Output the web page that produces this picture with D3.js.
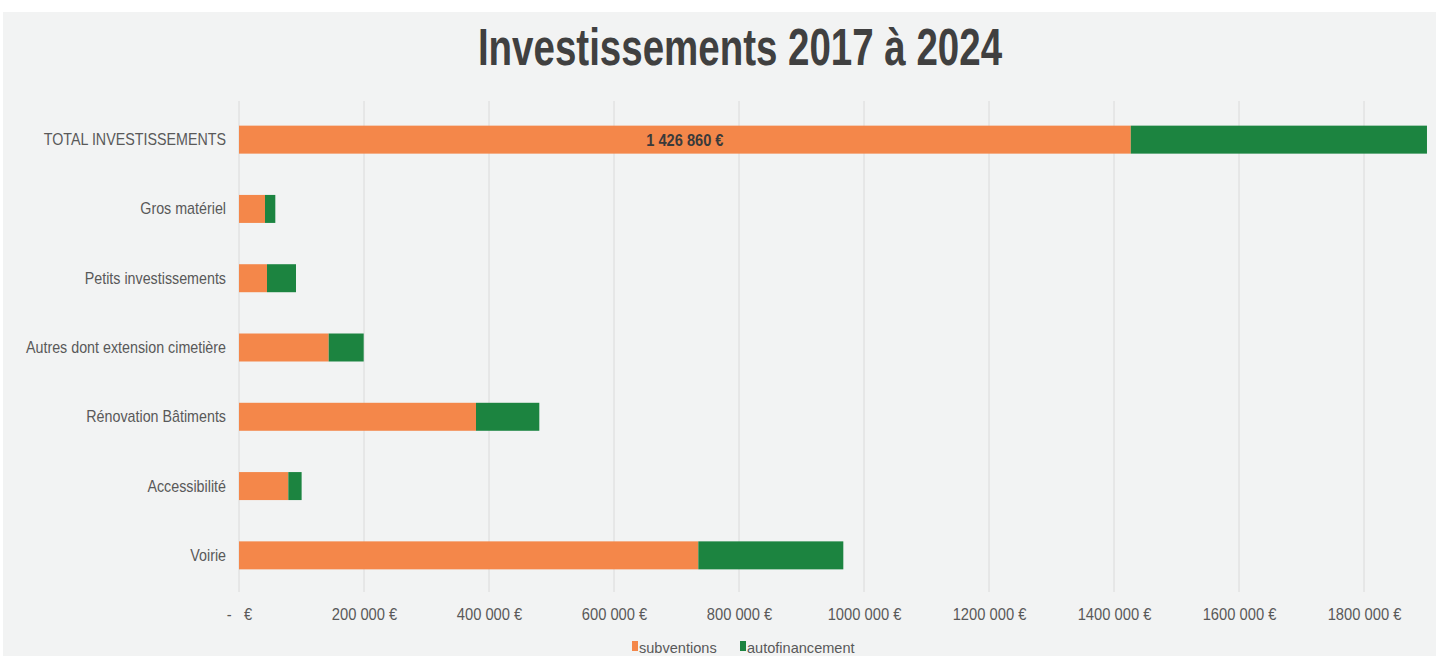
<!DOCTYPE html>
<html>
<head>
<meta charset="utf-8">
<script src="https://cdn.jsdelivr.net/npm/d3@7"></script>
<style>
  body { margin: 0; background: #fff; }
  svg text { font-family: "Liberation Sans", Arial, sans-serif; }
</style>
</head>
<body>
<svg id="chart" width="1436" height="656"></svg>
<script>
// categories, top to bottom
const categories = [
    'TOTAL INVESTISSEMENTS',
    'Gros matériel',
    'Petits investissements',
    'Autres dont extension cimetière',
    'Rénovation Bâtiments',
    'Accessibilité',
    'Voirie'
];
const subventions = [1426860, 41600, 44800, 143500, 379200, 78900, 734900];
const autofinancement = [473900, 16500, 46400, 56000, 101300, 21300, 232000];
const tickValues = [0, 200000, 400000, 600000, 800000, 1000000, 1200000, 1400000, 1600000, 1800000];
const tickLabels = ['-\u00a0\u00a0\u00a0€', '200 000 €', '400 000 €', '600 000 €', '800 000 €', '1000 000 €', '1200 000 €', '1400 000 €', '1600 000 €', '1800 000 €'];
const seriesNames = ['subventions', 'autofinancement'];
const barLabel = '1 426 860 €';

const colors = { subventions: '#f4874a', autofinancement: '#1c8440' };

// no narrow font installed: squeeze text horizontally
const condense = (sel, k) => {
    sel.each(function () {
        const w = this.getComputedTextLength();
        d3.select(this).attr('textLength', w * k).attr('lengthAdjust', 'spacingAndGlyphs');
    });
};

const svg = d3.select('#chart');
svg.append('rect')
    .attr('x', 3).attr('y', 12)
    .attr('width', 1433).attr('height', 644)
    .attr('fill', '#f2f3f3');

const x = d3.scaleLinear().domain([0, 1900000]).range([239, 1426.5]);
const y = d3.scaleBand().domain(categories).range([105, 590])
    .paddingInner(0.596).paddingOuter(0.298);

// gridlines
svg.append('g').attr('class', 'grid')
    .selectAll('line')
    .data(tickValues)
    .enter().append('line')
    .attr('x1', (d) => x(d)).attr('x2', (d) => x(d))
    .attr('y1', 101).attr('y2', 592)
    .attr('stroke', '#dadada')
    .attr('stroke-width', 1);

// stacked bars
const rows = categories.map((c, i) => ({ name: c, sub: subventions[i], auto: autofinancement[i] }));
const bars = svg.append('g').attr('class', 'bars');
bars.selectAll('rect.sub')
    .data(rows)
    .enter().append('rect')
    .attr('class', 'sub')
    .attr('x', x(0))
    .attr('y', (d) => y(d.name))
    .attr('width', (d) => x(d.sub) - x(0))
    .attr('height', y.bandwidth())
    .attr('fill', colors.subventions);
bars.selectAll('rect.auto')
    .data(rows)
    .enter().append('rect')
    .attr('class', 'auto')
    .attr('x', (d) => x(d.sub))
    .attr('y', (d) => y(d.name))
    .attr('width', (d) => x(d.sub + d.auto) - x(d.sub))
    .attr('height', y.bandwidth())
    .attr('fill', colors.autofinancement);

// value label on the total bar
svg.append('text')
    .attr('x', (x(0) + x(subventions[0])) / 2)
    .attr('y', y(categories[0]) + y.bandwidth() / 2 + 6)
    .attr('text-anchor', 'middle')
    .attr('font-size', 17)
    .attr('font-weight', 'bold')
    .attr('fill', '#3a3a3a')
    .text(barLabel)
    .call(condense, 0.86);

// y axis labels
const yAxis = d3.axisLeft(y).tickSize(0).tickPadding(13);
const gy = svg.append('g').attr('transform', 'translate(239,0)').call(yAxis);
gy.select('.domain').remove();
gy.selectAll('text')
    .attr('font-size', 17)
    .attr('fill', '#595959')
    .style('font-family', '"Liberation Sans", Arial, sans-serif')
    .call(condense, 0.84);

// x axis labels
const xAxis = d3.axisBottom(x)
    .tickValues(tickValues)
    .tickSize(0)
    .tickPadding(0)
    .tickFormat((d, i) => tickLabels[i]);
const gx = svg.append('g').attr('transform', 'translate(0,609)').call(xAxis);
gx.select('.domain').remove();
gx.selectAll('text')
    .attr('font-size', 16)
    .attr('fill', '#595959')
    .style('font-family', '"Liberation Sans", Arial, sans-serif')
    .call(condense, 0.92);

// title
svg.append('text')
    .attr('x', 740)
    .attr('y', 65)
    .attr('text-anchor', 'middle')
    .attr('font-size', 52)
    .attr('font-weight', 'bold')
    .attr('fill', '#404040')
    .text('Investissements 2017 à 2024')
    .call(condense, 0.74);

// legend
const legendX = [632, 740];
const legend = svg.append('g').attr('class', 'legend')
    .selectAll('g')
    .data(seriesNames)
    .enter().append('g')
    .attr('transform', (d, i) => 'translate(' + legendX[i] + ',0)');
legend.append('rect')
    .attr('x', 0).attr('y', 641)
    .attr('width', 6).attr('height', 10)
    .attr('fill', (d) => colors[d]);
legend.append('text')
    .attr('x', 7).attr('y', 653)
    .attr('font-size', 15)
    .attr('fill', '#595959')
    .text((d) => d)
    .call(condense, 0.97);
</script>
</body>
</html>
